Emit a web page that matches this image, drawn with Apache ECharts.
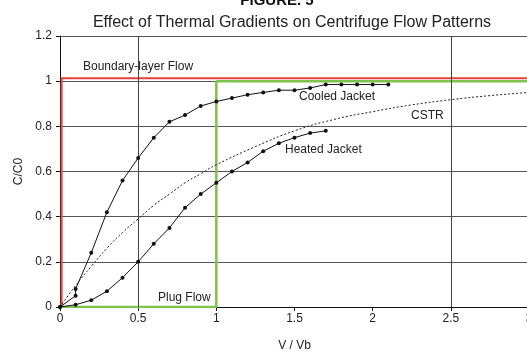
<!DOCTYPE html>
<html>
<head>
<meta charset="utf-8">
<script src="https://cdn.jsdelivr.net/npm/echarts@6/dist/echarts.min.js"></script>
<style>
  html, body { margin: 0; padding: 0; background: #fff; }
  #chart { width: 527px; height: 352px; }
</style>
</head>
<body>
<div id="chart"></div>
<script>
// data
var cooledX = [0, 0.1, 0.1, 0.2, 0.3, 0.4, 0.5, 0.6, 0.7, 0.8, 0.9, 1.0, 1.1, 1.2, 1.3, 1.4, 1.5, 1.6, 1.7, 1.8, 1.9, 2.0, 2.1];
var cooledY = [0, 0.05, 0.08, 0.24, 0.42, 0.56, 0.66, 0.75, 0.82, 0.85, 0.89, 0.91, 0.925, 0.94, 0.95, 0.96, 0.96, 0.97, 0.985, 0.985, 0.985, 0.985, 0.985];

var heatedX = [0, 0.1, 0.2, 0.3, 0.4, 0.5, 0.6, 0.7, 0.8, 0.9, 1.0, 1.1, 1.2, 1.3, 1.4, 1.5, 1.6, 1.7];
var heatedY = [0, 0.01, 0.03, 0.07, 0.13, 0.2, 0.28, 0.35, 0.44, 0.5, 0.55, 0.6, 0.64, 0.69, 0.725, 0.75, 0.77, 0.78];

var cstrX = [0, 0.1, 0.2, 0.3, 0.4, 0.5, 0.6, 0.7, 0.8, 0.9, 1.0, 1.25, 1.5, 1.75, 2.0, 2.25, 2.5, 2.75, 3.0];
var cstrY = [0, 0.095, 0.18, 0.26, 0.33, 0.39, 0.45, 0.5, 0.55, 0.59, 0.63, 0.71, 0.78, 0.83, 0.865, 0.895, 0.918, 0.936, 0.95];

var boundaryX = [0.01, 0.01, 3];
var boundaryY = [0, 1.013, 1.013];

var plugX = [0, 1, 1, 3];
var plugY = [0, 0, 1.0, 1.0];

var xTicks = [0, 0.5, 1, 1.5, 2, 2.5, 3];
var yTicks = [0, 0.2, 0.4, 0.6, 0.8, 1, 1.2];
var xGridAt = [0.5, 2.5];

function zip(xs, ys) {
  return xs.map(function (x, i) { return [x, ys[i]]; });
}

var font = 'Liberation Sans, Arial, sans-serif';

var chart = echarts.init(document.getElementById('chart'));
var option = {
  animation: false,
  backgroundColor: '#fff',
  textStyle: { fontFamily: font },
  title: [
    {
      text: 'FIGURE. 5',
      left: 272, top: -12, textAlign: 'center',
      textStyle: { fontSize: 15, fontWeight: 'bold', color: '#111', fontFamily: font }
    },
    {
      text: 'Effect of Thermal Gradients on Centrifuge Flow Patterns',
      left: 287, top: 10, textAlign: 'center',
      textStyle: { fontSize: 16, fontWeight: 'normal', color: '#222', fontFamily: font }
    }
  ],
  grid: { left: 60, right: -2, top: 36, bottom: 45, outerBoundsMode: 'none' },
  xAxis: {
    type: 'value',
    min: xTicks[0], max: xTicks[xTicks.length - 1], interval: 0.5,
    name: 'V / Vb', nameLocation: 'middle', nameGap: 33,
    nameTextStyle: { fontSize: 12, color: '#222' },
    axisLine: { show: true, onZero: false, lineStyle: { color: '#111', width: 1 } },
    axisTick: { show: true, length: 4, lineStyle: { color: '#111' } },
    axisLabel: { fontSize: 12, color: '#222', margin: 6 },
    splitLine: { show: false }
  },
  yAxis: {
    type: 'value',
    min: yTicks[0], max: yTicks[yTicks.length - 1], interval: 0.2,
    name: 'C/C0', nameLocation: 'middle', nameGap: 34, nameRotate: 90,
    nameTextStyle: { fontSize: 12, color: '#222' },
    axisLine: { show: true, lineStyle: { color: '#111', width: 1 } },
    axisTick: { show: true, length: 4, lineStyle: { color: '#111' } },
    axisLabel: { fontSize: 12, color: '#222', margin: 8 },
    splitLine: { show: true, lineStyle: { color: '#555', width: 1 } }
  },
  series: [
    {
      name: 'Grid', type: 'line', data: [], silent: true,
      markLine: {
        silent: true, symbol: 'none', label: { show: false },
        lineStyle: { color: '#444', width: 1, type: 'solid' },
        data: xGridAt.map(function (v) { return { xAxis: v }; })
      }
    },
    {
      name: 'Plug Flow', type: 'line', data: zip(plugX, plugY),
      symbol: 'none', lineStyle: { color: '#7dc24b', width: 2.5 }, z: 3
    },
    {
      name: 'Boundary-layer Flow', type: 'line', data: zip(boundaryX, boundaryY),
      symbol: 'none', lineStyle: { color: '#e3413f', width: 2 }, z: 4
    },
    {
      name: 'CSTR', type: 'line', data: zip(cstrX, cstrY), smooth: true,
      symbol: 'none', lineStyle: { color: '#222', width: 1, type: [2, 2] }, z: 5
    },
    {
      name: 'Cooled Jacket', type: 'line', data: zip(cooledX, cooledY),
      symbol: 'circle', symbolSize: 4, itemStyle: { color: '#111' },
      lineStyle: { color: '#111', width: 1 }, z: 6
    },
    {
      name: 'Heated Jacket', type: 'line', data: zip(heatedX, heatedY),
      symbol: 'circle', symbolSize: 4, itemStyle: { color: '#111' },
      lineStyle: { color: '#111', width: 1 }, z: 6
    }
  ],
  graphic: [
    { type: 'text', left: 83, top: 61, style: { text: 'Boundary-layer Flow', font: '12px ' + font, fill: '#222' } },
    { type: 'text', left: 299, top: 91, style: { text: 'Cooled Jacket', font: '12px ' + font, fill: '#222' } },
    { type: 'text', left: 411, top: 110, style: { text: 'CSTR', font: '12px ' + font, fill: '#222' } },
    { type: 'text', left: 285, top: 144, style: { text: 'Heated Jacket', font: '12px ' + font, fill: '#222' } },
    { type: 'text', left: 158, top: 292, style: { text: 'Plug Flow', font: '12px ' + font, fill: '#222' } }
  ]
};
chart.setOption(option);
</script>
</body>
</html>
